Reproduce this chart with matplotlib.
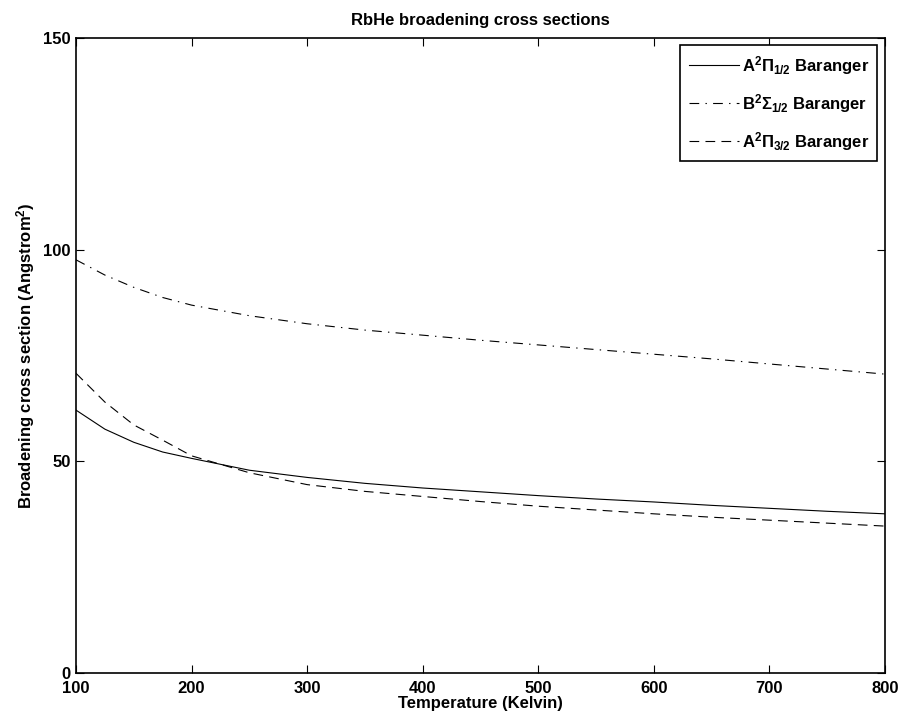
import matplotlib
matplotlib.use('Agg')
import matplotlib.pyplot as plt

# temperature grid (Kelvin)
temps = [100, 125, 150, 175, 200, 250, 300, 350, 400, 450, 500, 550, 600, 650, 700, 750, 800]

# broadening cross sections (Angstrom^2)
a_pi_half = [62.1, 57.6, 54.5, 52.2, 50.7, 47.9, 46.2, 44.8, 43.7, 42.8, 41.9, 41.1, 40.4, 39.6, 38.9, 38.2, 37.6]
b_sigma_half = [97.6, 94.0, 91.1, 88.7, 86.9, 84.4, 82.5, 81.0, 79.8, 78.6, 77.5, 76.4, 75.3, 74.2, 73.0, 71.8, 70.6]
a_pi_3half = [70.8, 64.0, 58.6, 55.0, 51.3, 47.3, 44.5, 42.9, 41.7, 40.5, 39.4, 38.5, 37.6, 36.8, 36.1, 35.4, 34.7]

labels = [r'A$^2\Pi_{1/2}$ Baranger',
          r'B$^2\Sigma_{1/2}$ Baranger',
          r'A$^2\Pi_{3/2}$ Baranger']

plt.rcParams['font.family'] = ['Liberation Sans', 'DejaVu Sans']
plt.rcParams['font.weight'] = 'bold'
plt.rcParams['mathtext.fontset'] = 'custom'
plt.rcParams['mathtext.rm'] = 'Liberation Sans:bold'
plt.rcParams['mathtext.it'] = 'Liberation Sans:bold'
plt.rcParams['mathtext.bf'] = 'Liberation Sans:bold'
plt.rcParams['lines.scale_dashes'] = False

fs = 12

fig = plt.figure(figsize=(9.04, 7.27), dpi=100)
ax = fig.add_axes([76/904, 1 - 673/727, (885 - 76)/904, (673 - 38)/727])

ax.plot(temps, a_pi_half, color='black', lw=0.8, linestyle='-', label=labels[0])
ax.plot(temps, b_sigma_half, color='black', lw=0.8, dashes=[7, 4.5, 1, 4.5], label=labels[1])
ax.plot(temps, a_pi_3half, color='black', lw=0.8, dashes=[7, 4.5], label=labels[2])

ax.set_xlim(100, 800)
ax.set_ylim(0, 150)
ax.set_xticks(range(100, 801, 100))
ax.set_yticks([0, 50, 100, 150])
ax.tick_params(direction='in', length=6, width=0.8, top=True, right=True,
               labelsize=fs)
ax.tick_params(axis='x', pad=6)
ax.tick_params(axis='y', pad=4)
for s in ax.spines.values():
    s.set_linewidth(1.2)

ax.set_title('RbHe broadening cross sections', fontsize=fs, fontweight='bold', pad=9)
ax.set_xlabel('Temperature (Kelvin)', fontsize=fs, fontweight='bold', labelpad=0)
ax.set_ylabel(r'Broadening cross section (Angstrom$^2$)', fontsize=fs, fontweight='bold', labelpad=4)

leg = ax.legend(loc='upper right', fontsize=fs, fancybox=False, framealpha=1,
                edgecolor='black', handlelength=3.0, handletextpad=0.2,
                borderaxespad=0.45, labelspacing=0.9, borderpad=0.5)
leg.get_frame().set_linewidth(1.2)

fig.savefig('out.png', dpi=100)
